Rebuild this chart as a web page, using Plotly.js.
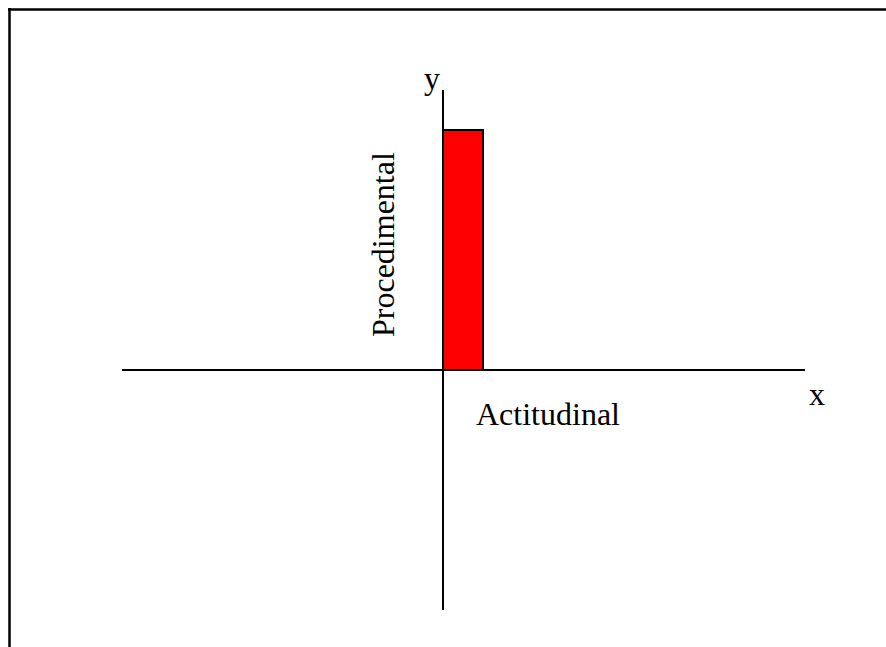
<!DOCTYPE html>
<html>
<head>
<meta charset="utf-8">
<script src="https://cdn.plot.ly/plotly-3.0.1.min.js"></script>
<style>
html,body{margin:0;padding:0;background:#fff;}
#chart{width:886px;height:647px;}
</style>
</head>
<body>
<div id="chart"></div>
<script>
// Data
const barCategories = ["Actitudinal"];
const barX = [0.5];          // bar centre (unit width, starting at origin)
const barValues = [6];       // bar height
const xAxisExtent = [-8.025, 9.05];
const yAxisExtent = [-6, 7];
const axisNames = ["x", "y"];
const quadrantLabels = ["Procedimental", "Actitudinal"];

const serif = "Liberation Serif, Times New Roman, serif";

const traces = [
  {
    type: "scatter", mode: "lines",
    x: xAxisExtent, y: [0, 0],
    line: {color: "#000", width: 2},
    hoverinfo: "skip", showlegend: false
  },
  {
    type: "scatter", mode: "lines",
    x: [0, 0], y: yAxisExtent,
    line: {color: "#000", width: 2},
    hoverinfo: "skip", showlegend: false
  },
  {
    type: "bar",
    name: barCategories[0],
    x: barX, y: barValues, width: [1],
    marker: {color: "#ff0000", line: {color: "#000", width: 2}},
    showlegend: false, hoverinfo: "skip"
  }
];

const layout = {
  width: 886, height: 647,
  margin: {l: 0, r: 0, t: 0, b: 0},
  paper_bgcolor: "#fff", plot_bgcolor: "#fff",
  showlegend: false,
  xaxis: {range: [-11.075, 11.075], visible: false, fixedrange: true},
  yaxis: {range: [-6.925, 9.25], visible: false, fixedrange: true},
  shapes: [
    {type: "line", xref: "paper", yref: "paper", x0: 8/886, x1: 1, y0: 1 - 9.5/647, y1: 1 - 9.5/647,
     line: {color: "#000", width: 2.5}},
    {type: "line", xref: "paper", yref: "paper", x0: 9.5/886, x1: 9.5/886, y0: 1 - 8/647, y1: 0,
     line: {color: "#000", width: 2.5}}
  ],
  annotations: [
    {x: -0.275, y: 7.3, xref: "x", yref: "y", text: axisNames[1], showarrow: false,
     font: {family: serif, size: 32, color: "#000"}},
    {x: 9.35, y: -0.6, xref: "x", yref: "y", text: axisNames[0], showarrow: false,
     font: {family: serif, size: 32, color: "#000"}},
    {x: -1.5, y: 3.125, xref: "x", yref: "y", text: quadrantLabels[0], showarrow: false, textangle: -90,
     font: {family: serif, size: 32, color: "#000"}},
    {x: 2.625, y: -1.1, xref: "x", yref: "y", text: quadrantLabels[1], showarrow: false,
     font: {family: serif, size: 32, color: "#000"}}
  ]
};

Plotly.newPlot("chart", traces, layout, {displayModeBar: false, staticPlot: true});
</script>
</body>
</html>
